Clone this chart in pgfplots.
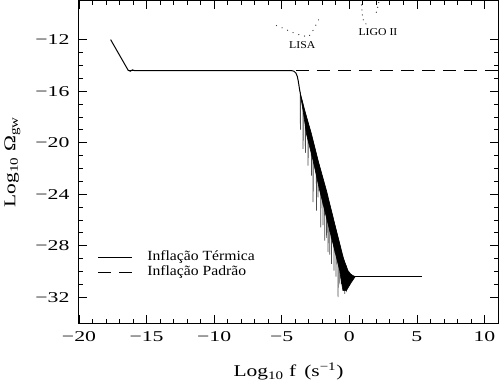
\documentclass[border=0pt]{standalone}
\usepackage{fontspec}
\setmainfont{Liberation Serif}
\newfontfamily\legfont{Liberation Serif}[FakeStretch=1.12]
\newfontfamily\labfont{Liberation Serif}[FakeStretch=1.3]
\newfontfamily\tickfont{Liberation Serif}[FakeStretch=1.45]
\usepackage{pgfplots}
\pgfplotsset{compat=1.18}
\begin{document}
\begin{tikzpicture}
\useasboundingbox (-79bp,-62bp) rectangle (421bp,323bp);
\begin{axis}[
  at={(0,0)}, anchor=south west,
  scale only axis, width=419bp, height=322bp,
  xmin=-20, xmax=11, ymin=-34, ymax=-9,
  xtick={-20,-15,-10,-5,0,5,10},
  xticklabels={−20,−15,−10,−5,0,5,10},
  ytick={-32,-28,-24,-20,-16,-12},
  yticklabels={−32,−28,−24,−20,−16,−12},
  minor x tick num=4, minor y tick num=3,
  tick align=inside,
  major tick length=8bp, minor tick length=4bp,
  every tick/.style={black, line width=0.8bp},
  axis line style={line width=1bp},
  ticklabel style={font=\tickfont\fontsize{15bp}{18bp}\selectfont},
  xticklabel style={yshift=-5bp},
  yticklabel style={xshift=-6bp},
  xlabel={Log\textsubscript{10} f\, (s\textsuperscript{−1})},
  ylabel={Log\textsubscript{10} Ω\textsubscript{gw}},
  label style={font=\labfont\fontsize{16.5bp}{20bp}\selectfont},
  xlabel style={at={(axis description cs:0.5,0)}, anchor=base, yshift=-53.7bp},
  ylabel style={at={(axis description cs:-0.152,0.5)}, anchor=base},
  legend style={at={(axis cs:-18.62,-28.3)}, anchor=north west, draw=none, fill=none,
    inner sep=0pt, font=\legfont\fontsize{14bp}{16bp}\selectfont,
    nodes={inner sep=1bp, text height=9.5bp, text depth=3.5bp}, row sep=0pt},
  legend cell align=left,
  legend image code/.code={\draw[#1] (0bp,0bp) -- (33.5bp,0bp);},
]
% Inflacao Termica (main curve)
\addplot[black, line width=1bp] coordinates {
 (-17.66,-12.0) (-16.36,-14.38) (-16.2,-14.45) (-16.05,-14.35) (-15.9,-14.4)
 (-4.3,-14.4) (-4.1,-14.45) (-3.95,-14.6) (-3.85,-14.85) (-3.78,-15.2)
 (-3.72,-15.6) (-3.66,-16.0) (-3.62,-16.2)
};
\addlegendentry{\hspace{14bp}Inflação Térmica}
% Inflacao Padrao
\addplot[black, line width=1bp, dash pattern=on 12.5bp off 8.5bp] coordinates {
 (-16.36,-14.4) (11,-14.4)
};
\addlegendentry{\hspace{14bp}Inflação Padrão}
% deep oscillation minima
\addplot[black!70, line width=0.7bp, forget plot] coordinates {
 (-3.64,-16.14) (-3.62,-19.0) (-3.60,-16.3)
 (-3.44,-16.94) (-3.42,-20.49) (-3.40,-17.1)
 (-3.27,-17.62) (-3.25,-20.8) (-3.23,-17.78)
 (-3.07,-18.42) (-3.05,-21.78) (-3.03,-18.58)
 (-2.82,-19.42) (-2.80,-22.56) (-2.78,-19.58)
 (-2.70,-19.9) (-2.68,-24.62) (-2.66,-20.06)
 (-2.45,-20.9) (-2.43,-25.28) (-2.41,-21.06)
 (-2.33,-21.38) (-2.31,-24.24) (-2.29,-21.54)
 (-2.13,-22.18) (-2.11,-26.57) (-2.09,-22.34)
 (-1.97,-22.82) (-1.95,-26.4) (-1.93,-22.98)
 (-1.84,-23.34) (-1.82,-27.61) (-1.80,-23.5)
 (-1.70,-23.9) (-1.68,-27.4) (-1.66,-24.06)
 (-1.59,-24.34) (-1.57,-28.5) (-1.55,-24.5)
 (-1.47,-24.82) (-1.45,-28.7) (-1.43,-24.98)
 (-1.34,-25.34) (-1.32,-29.41) (-1.30,-25.5)
 (-1.15,-26.1) (-1.13,-29.93) (-1.11,-26.26)
 (-1.00,-26.7) (-0.98,-30.4) (-0.96,-26.86)
 (-0.85,-27.3) (-0.83,-32.0) (-0.81,-27.46)
 (-0.72,-27.82) (-0.70,-31.0) (-0.68,-27.98)
 (-0.60,-28.3) (-0.58,-30.97) (-0.56,-28.46)
 (-0.36,-29.26) (-0.34,-31.74) (-0.32,-29.42)
 (-0.22,-29.6) (-0.20,-31.6) (-0.18,-29.75)
};
% oscillating band (envelope)
\addplot[black, fill=black, line width=0.6bp, forget plot] coordinates {
 (-3.62,-16.2) (-3.30,-17.51) (-2.80,-19.32) (-2.31,-21.39) (-1.69,-23.72)
 (-1.08,-26.31) (-0.47,-28.89) (-0.10,-29.93) (0.10,-30.2) (0.27,-30.32) (0.45,-30.4)
 (0.40,-30.45) (0.15,-30.84) (-0.22,-31.49) (-0.47,-31.49) (-0.60,-30.7)
 (-0.71,-29.93) (-1.08,-28.38) (-1.57,-26.31) (-2.19,-23.72) (-2.68,-21.39)
 (-3.17,-19.32) (-3.42,-17.51) (-3.62,-16.3)
} -- cycle;
% flat tail
\addplot[black, line width=1bp, forget plot] coordinates {
 (0.40,-30.4) (5.37,-30.4)
};
% LISA sensitivity
\addplot[black!75, line width=1.3bp, dash pattern=on 0.01bp off 6bp, line cap=round, forget plot] coordinates {
 (-5.39,-10.91) (-4.90,-11.11) (-4.41,-11.35) (-3.91,-11.56) (-3.42,-11.69)
 (-3.05,-11.81) (-2.80,-11.50) (-2.56,-11.04) (-2.31,-10.52) (-2.06,-10.06)
};
% LIGO II sensitivity
\addplot[black!75, line width=1.3bp, dash pattern=on 0.01bp off 5bp, line cap=round, forget plot] coordinates {
 (0.894,-8.92) (0.894,-9.36) (0.94,-9.75) (0.97,-10.14) (1.01,-10.39) (1.09,-10.65) (1.26,-10.80)
};
\addplot[black!75, line width=1.3bp, dash pattern=on 0.01bp off 5bp, line cap=round, forget plot] coordinates {
 (2.00,-9.87) (2.08,-9.56) (2.15,-9.23) (2.21,-8.92)
};
\node[font=\legfont\fontsize{10.5bp}{12bp}\selectfont] at (axis cs:-3.48,-12.43) {LISA};
\node[font=\legfont\fontsize{10.5bp}{12bp}\selectfont] at (axis cs:2.12,-11.44) {LIGO II};
\end{axis}
\end{tikzpicture}
\end{document}
